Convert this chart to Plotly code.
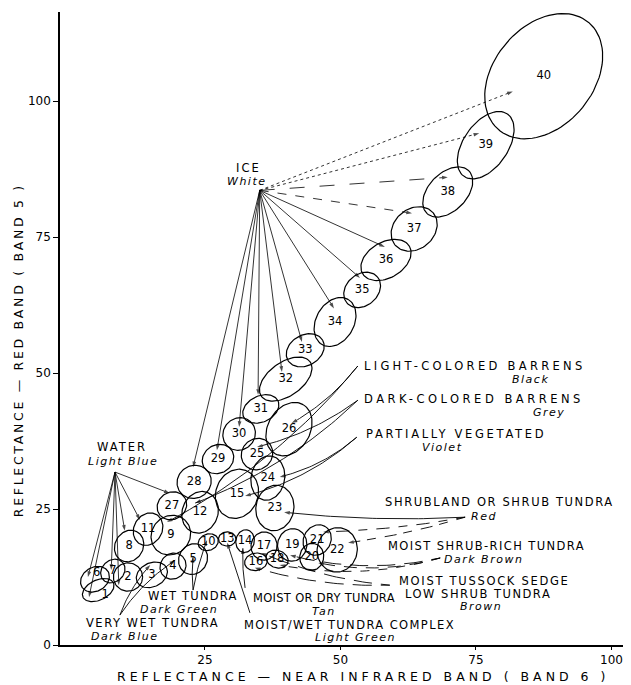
import numpy as np
import plotly.graph_objects as go

# ---------------- data ----------------
ids = list(range(1, 41))
# ellipse centres (NIR band 6, red band 5 reflectance)
cx = [5.3, 10.8, 15.2, 19.1, 22.8, 4.7, 8.0, 11.0, 18.7, 25.6,
      14.5, 24.1, 29.1, 32.4, 30.9, 34.4, 35.9, 38.3, 41.1, 44.7,
      45.7, 49.4, 37.9, 36.6, 34.6, 40.5, 18.9, 23.0, 27.4, 31.3,
      35.3, 39.9, 43.5, 49.0, 54.0, 58.4, 63.6, 69.8, 76.8, 87.5]
cy = [10.1, 12.5, 12.9, 14.5, 15.8, 12.1, 13.6, 18.2, 20.2, 18.9,
      21.3, 24.4, 19.5, 19.1, 27.8, 15.3, 18.2, 15.8, 18.4, 16.2,
      19.3, 17.5, 25.2, 30.7, 35.1, 39.7, 25.6, 30.0, 34.2, 38.8,
      43.4, 48.9, 54.2, 59.4, 65.3, 70.8, 76.5, 83.3, 91.9, 104.6]
semi_a = [3.1, 2.7, 3.0, 2.5, 2.9, 2.8, 2.4, 3.0, 3.8, 1.9,
          3.1, 3.9, 1.6, 2.1, 4.6, 2.1, 2.6, 2.1, 3.0, 2.5,
          2.9, 4.1, 4.2, 4.1, 3.0, 5.2, 2.8, 3.2, 3.0, 3.1,
          3.5, 5.5, 3.7, 4.8, 3.7, 5.0, 4.6, 5.5, 7.0, 12.9]
semi_b = [1.85, 2.6, 2.2, 2.3, 2.6, 2.2, 2.0, 2.6, 3.5, 1.5,
          2.6, 3.3, 1.3, 1.7, 3.9, 1.6, 2.4, 1.6, 2.7, 2.2,
          2.5, 3.7, 3.5, 3.1, 2.8, 3.9, 2.5, 3.0, 2.6, 2.9,
          2.4, 3.1, 2.8, 3.5, 2.9, 3.3, 3.7, 3.5, 4.1, 9.2]
tilt_deg = [25, 0, 25, 45, 60, 30, 40, 60, 45, 20,
            60, 70, 0, 80, 70, 10, 80, -20, 80, 80,
            60, 80, 80, 80, 45, 60, 30, 30, 30, 45,
            25, 35, 30, 60, 40, 30, 40, 45, 55, 50]
# where each ellipse's number is written (mostly at the centre)
num_x = [6.6] + cx[1:5] + [5.0] + cx[6:]
num_y = [9.2] + cy[1:5] + [13.3] + cy[6:]
# class mean points (arrow tips)
tip_x = [3.6, 9.1, 14.9, 19.5, 22.8, 3.4, 7.7, 10.2, 18.0, 25.4,
         13.0, 23.2, 29.1, 32.0, 32.4, 34.2, 35.5, 38.8, 40.7, 45.9,
         46.8, 51.4, 39.6, 38.8, 34.6, 41.0, 18.5, 22.8, 27.2, 31.3,
         34.8, 39.2, 42.9, 48.8, 53.6, 58.2, 63.2, 69.8, 75.6, 81.8]
tip_y = [8.8, 11.0, 14.7, 15.6, 16.2, 12.5, 13.8, 21.0, 22.6, 19.3,
         23.0, 26.1, 18.8, 17.8, 27.4, 14.2, 16.9, 14.7, 16.5, 15.1,
         20.8, 18.8, 24.4, 30.9, 36.4, 40.8, 27.9, 32.7, 35.8, 40.1,
         46.0, 50.2, 55.7, 61.9, 67.5, 73.2, 79.4, 86.0, 94.1, 101.8]

class_names = ["ICE", "WATER", "LIGHT-COLORED BARRENS", "DARK-COLORED BARRENS",
               "PARTIALLY VEGETATED", "SHRUBLAND OR SHRUB TUNDRA",
               "MOIST SHRUB-RICH TUNDRA", "MOIST TUSSOCK SEDGE|LOW SHRUB TUNDRA",
               "MOIST OR DRY TUNDRA", "MOIST/WET TUNDRA COMPLEX",
               "WET TUNDRA", "VERY WET TUNDRA"]
class_colors = ["White", "Light Blue", "Black", "Grey", "Violet", "Red",
                "Dark Brown", "Brown", "Tan", "Light Green", "Dark Green", "Dark Blue"]
class_members = [list(range(28, 41)), [27, 11, 8, 7, 2, 6, 1], [26, 9], [25, 12],
                 [24, 15], [23, 21, 22], [19, 20, 18], [16, 17], [14], [13],
                 [5, 10], [3, 4]]
# convergence point of each class' leader lines
anchor_x = [35.1, 8.4, 53.2, 53.2, 53.0, 73.0, 68.4, 59.1, 32.4, 33.3, 22.8, 9.3]
anchor_y = [83.6, 31.8, 51.3, 45.0, 38.2, 23.5, 16.0, 11.0, 10.5, 5.9, 10.1, 5.5]

x_ticks = [25, 50, 75, 100]
y_ticks = [0, 25, 50, 75, 100]

# ---------------- figure ----------------
fig = go.Figure()

# ellipses
ex, ey = [], []
t = np.linspace(0, 2 * np.pi, 90)
for i in range(len(ids)):
    th = np.deg2rad(tilt_deg[i])
    xs = cx[i] + semi_a[i] * np.cos(t) * np.cos(th) - semi_b[i] * np.sin(t) * np.sin(th)
    ys = cy[i] + semi_a[i] * np.cos(t) * np.sin(th) + semi_b[i] * np.sin(t) * np.cos(th)
    ex += list(xs) + [None]
    ey += list(ys) + [None]
fig.add_trace(go.Scatter(x=ex, y=ey, mode="lines",
                         line=dict(color="black", width=1.2),
                         hoverinfo="skip", showlegend=False))

def arrow_trace(xs, ys, dash="solid", width=0.9):
    n = len(xs)
    sizes = [0] * (n - 1) + [6]
    fig.add_trace(go.Scatter(x=xs, y=ys, mode="lines+markers",
                             line=dict(color="black", width=width, dash=dash),
                             marker=dict(symbol="arrow", size=sizes, angleref="previous",
                                         color="black", line=dict(width=0)),
                             hoverinfo="skip", showlegend=False))

def curve(ax_, ay_, tx, ty, bow):
    dx, dy = tx - ax_, ty - ay_
    mx, my = (ax_ + tx) / 2, (ay_ + ty) / 2
    ctrlx, ctrly = mx - dy * bow, my + dx * bow
    s = np.linspace(0, 1, 40)
    bx = (1 - s) ** 2 * ax_ + 2 * (1 - s) * s * ctrlx + s ** 2 * tx
    by = (1 - s) ** 2 * ay_ + 2 * (1 - s) * s * ctrly + s ** 2 * ty
    return list(bx), list(by)

ice_dash = {37: "dash", 38: "longdash", 39: "dot", 40: "dot"}
bows = [0.0, 0.0, 0.10, 0.10, 0.12, 0.04, 0.12, 0.08, 0.05, 0.0, 0.05, 0.10]
for c in range(len(class_names)):
    for m in class_members[c]:
        k = m - 1
        if c in (0, 1):
            arrow_trace([anchor_x[c], tip_x[k]], [anchor_y[c], tip_y[k]],
                        dash=ice_dash.get(m, "solid") if c == 0 else "solid", width=0.8)
        else:
            bx, by = curve(anchor_x[c], anchor_y[c], tip_x[k], tip_y[k], bows[c])
            dash = "solid"
            if c in (6, 7) or (c == 5 and m != 23):
                dash = "dash"
            arrow_trace(bx, by, dash=dash, width=0.9)

# ellipse numbers
fig.add_trace(go.Scatter(x=num_x, y=num_y, mode="text", text=[str(i) for i in ids],
                         textfont=dict(family="DejaVu Sans", size=11.5, color="black"),
                         hoverinfo="skip", showlegend=False))

def sp(txt, ls):
    return f'<span style="letter-spacing:{ls}px">{txt}</span>'

FONT = "DejaVu Sans"
# class label layout: (name x, name y, name anchor, color x, color y, letter spacing per line)
label_pos = [
    (33.0, 87.7, "center", 32.7, 85.3, [2.0]),
    (9.7, 36.4, "center", 9.9, 33.8, [2.0]),
    (54.0, 51.3, "left", 85.1, 48.9, [3.3]),
    (54.0, 45.2, "left", 88.5, 42.8, [3.5]),
    (54.3, 38.8, "left", 68.7, 36.4, [2.7]),
    (57.8, 26.3, "left", 76.5, 23.7, [1.6]),
    (58.4, 18.2, "left", 76.3, 15.8, [1.4]),
    (60.4, 11.8, "left", 75.9, 7.0, [1.7, 1.5]),
    (33.5, 8.6, "left", 47.0, 6.25, [0.3]),
    (31.8, 3.7, "left", 52.7, 1.3, [1.4]),
    (14.1, 9.0, "left", 20.2, 6.6, [1.2]),
    (2.7, 4.0, "left", 10.2, 1.65, [1.5]),
]
for c, name in enumerate(class_names):
    nx, ny, anc, colx, coly, lss = label_pos[c]
    parts = name.split("|")
    for j, p in enumerate(parts):
        fig.add_annotation(x=nx + (1.1 * j if j else 0), y=ny - 2.4 * j, text=sp(p, lss[j]),
                           xanchor=anc, yanchor="middle", showarrow=False,
                           font=dict(family=FONT, size=11.5, color="black"))
    fig.add_annotation(x=colx, y=coly, text=sp("<i>" + class_colors[c] + "</i>", 1.5),
                       xanchor="center", yanchor="middle", showarrow=False,
                       font=dict(family=FONT, size=11, color="black"))

# axis titles
fig.add_annotation(xref="paper", yref="paper", x=0.536, y=-0.049,
                   text=sp("REFLECTANCE — NEAR INFRARED BAND ( BAND 6 )", 4.0),
                   showarrow=False, xanchor="center", yanchor="middle",
                   font=dict(family=FONT, size=12.5, color="black"))
fig.add_annotation(xref="paper", yref="paper", x=-0.074, y=0.466, textangle=-90,
                   text=sp("REFLECTANCE — RED BAND ( BAND 5 )", 2.7),
                   showarrow=False, xanchor="center", yanchor="middle",
                   font=dict(family=FONT, size=12.5, color="black"))

# the page adds an 8 px body margin, so the figure is sized/margined to compensate
fig.update_layout(
    width=623, height=677,
    margin=dict(l=52, r=6, t=4, b=40),
    paper_bgcolor="white", plot_bgcolor="white",
    showlegend=False,
    xaxis=dict(range=[-1.75, 102.5], tickvals=x_ticks, ticks="outside", ticklen=3,
               showline=True, linecolor="black", linewidth=1.5, showgrid=False,
               zeroline=False, tickfont=dict(family=FONT, size=12, color="black"),
               tickcolor="black"),
    yaxis=dict(range=[0, 116.4], tickvals=y_ticks, ticks="outside", ticklen=5,
               showline=True, linecolor="black", linewidth=1.5, showgrid=False,
               zeroline=False, tickfont=dict(family=FONT, size=12, color="black"),
               tickcolor="black"),
)

fig.write_html("out.html")
